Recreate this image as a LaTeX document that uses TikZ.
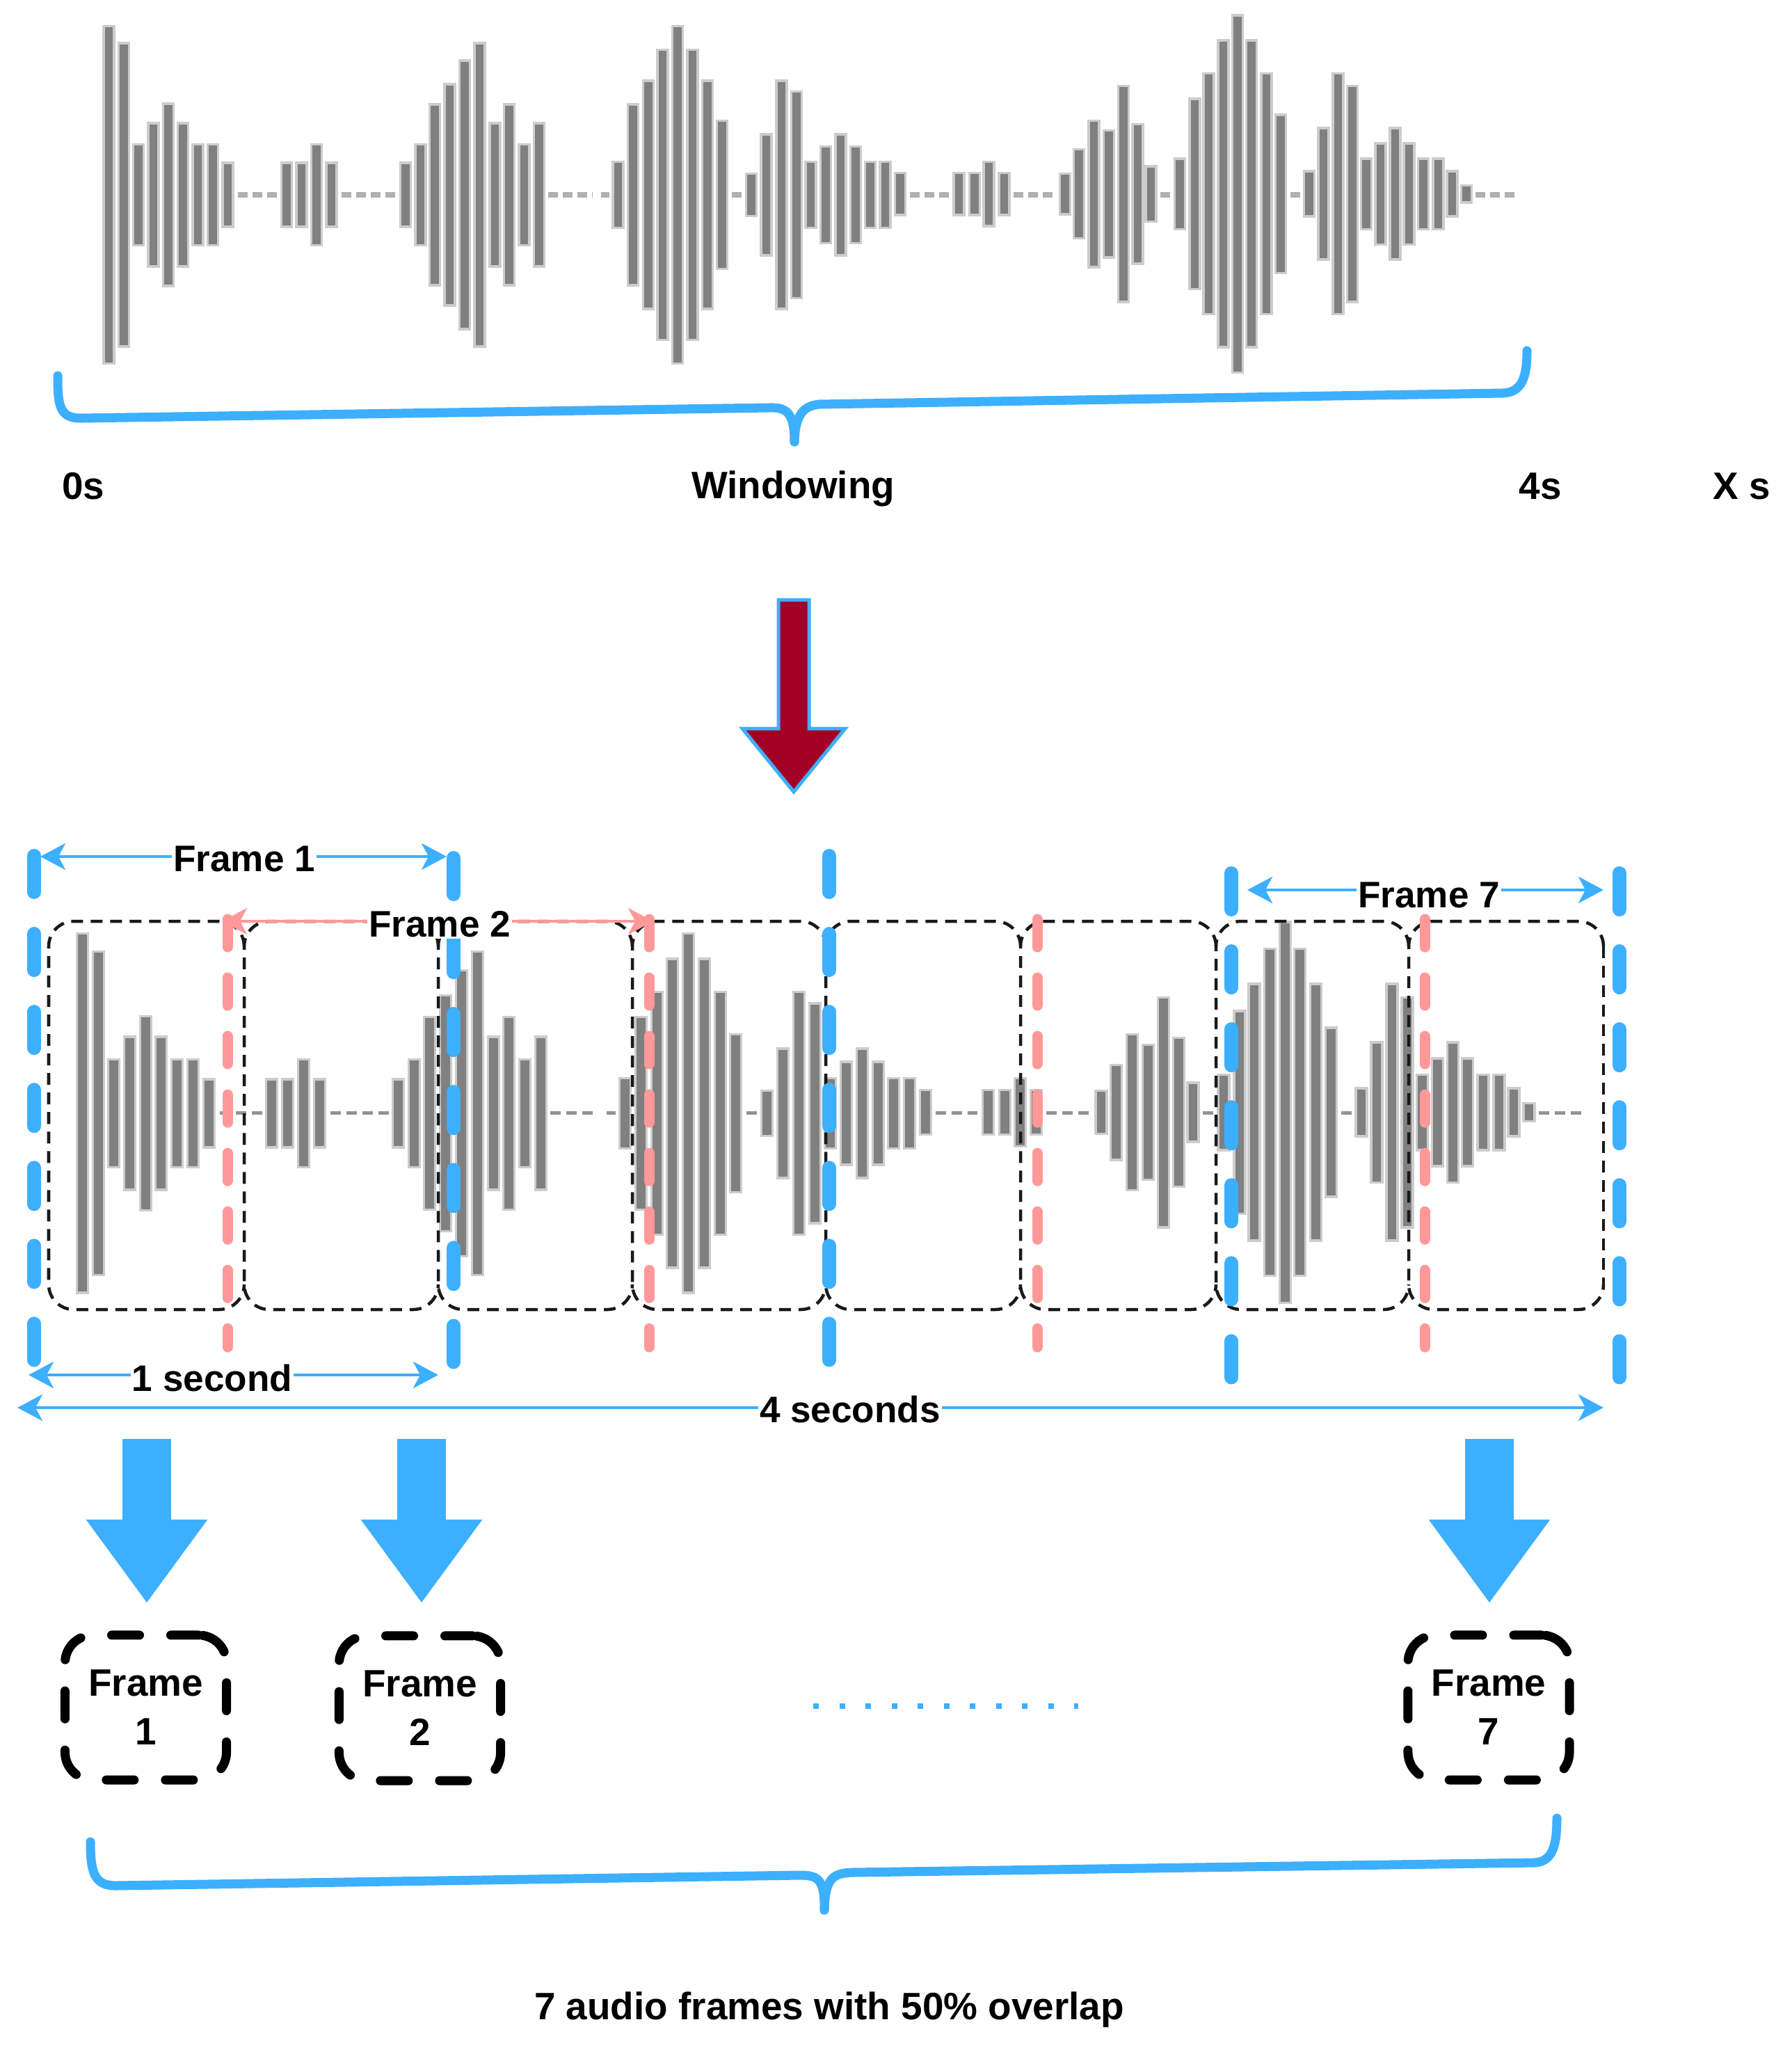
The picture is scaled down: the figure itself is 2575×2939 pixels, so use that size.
\documentclass[tikz,border=0pt]{standalone}
\usepackage{fontspec}
\setmainfont{Liberation Sans}
\usetikzlibrary{arrows.meta}
\definecolor{wblue}{HTML}{3DAFFF}
\definecolor{wpink}{HTML}{FF9999}
\definecolor{wgray}{HTML}{808080}
\definecolor{wdash}{HTML}{B0B0B0}
\definecolor{wred}{HTML}{A20025}
\tikzset{
  wavebar/.style={fill=wgray,draw=wgray!40,line width=.035cm},
  wavegap/.style={draw=wdash,line width=.08cm,dash pattern=on .14cm off .07cm},
  lbl/.style={font=\bfseries\fontsize{15.6}{19.9}\selectfont,inner sep=.02cm,text=black},
  cutlbl/.style={lbl,font=\bfseries\fontsize{15.1}{19.9}\selectfont,fill=white},
  bluebar/.style={draw=wblue,line width=.2cm,line cap=round,dash pattern=on .52cm off .60cm},
  pinkbar/.style={draw=wpink,line width=.15cm,line cap=round,dash pattern=on .40cm off .44cm},
  framebox/.style={draw=black!90,line width=.045cm,dash pattern=on .17cm off .11cm,rounded corners=.36cm},
  brace/.style={draw=wblue,line width=.13cm,line cap=round,line join=round},
  spanblue/.style={draw=wblue,line width=.045cm,{Stealth[length=.36cm,width=.38cm,inset=.1cm]}-{Stealth[length=.36cm,width=.38cm,inset=.1cm]}},
  spanpink/.style={draw=wpink,line width=.045cm,{Stealth[length=.36cm,width=.38cm,inset=.1cm]}-{Stealth[length=.36cm,width=.38cm,inset=.1cm]}},
  bigarrow/.style={draw=wblue,line width=.70cm,-{Triangle[length=1.20cm,width=1.66cm]}},
  framenode/.style={lbl,align=center,draw=black,line width=.13cm,line cap=round,dash pattern=on .40cm off .45cm,rounded corners=.4cm,minimum width=2.32cm,minimum height=2.08cm,inner sep=0pt},
}
\newcommand{\wavepic}{%
  \foreach \z/\h in {189/500,215/450,240/150,266/213,292/270,317/213,343/150,369/150,395/95,
    497/95,523/95,549/150,575/95,703/95,729/150,754/268,780/328,806/398,832/450,858/213,883/268,909/150,935/213,
    1072/98,1098/268,1124/338,1149/430,1175/500,1201/430,1227/338,1252/220,
    1303/63,1329/180,1355/338,1381/306,1406/98,1432/143,1458/180,1484/143,1509/98,1535/98}
    {\filldraw[wavebar] ({\z*.829-7.5},{280-\h*.4847}) rectangle ({\z*.829+7.5},{280+\h*.4847});}
  \foreach \z/\h in {23/62,125/62,152/62,177/95,203/62,309/60,333/132,359/217,385/188,410/320,435/207,458/82,
    508/105,534/282,558/357,583/455,608/530,632/455,658/357,683/235,
    732/67,757/195,782/357,807/320,831/105,856/150,881/195,905/150,930/105,956/105,980/67,1005/25}
    {\filldraw[wavebar] ({1275+\z*.829-7.5},{278.7-\h*.4847}) rectangle ({1275+\z*.829+7.5},{278.7+\h*.4847});}
  \foreach \a/\b in {342/400,491/572,788/852,864/876,1052/1066,1308/1364,1457/1517,1668/1682,1855/1869,2121/2179}
    {\draw[wavegap] (\a,279.5) -- (\b,279.5);}
}
\begin{document}
\begin{tikzpicture}[x=.01cm,y=-.01cm]
\useasboundingbox (0,0) rectangle (2575,2939);
\fill[white] (0,0) rectangle (2575,2939);
% top waveform
\wavepic
% top brace
\draw[brace] (83,540) .. controls (83,582) and (85,601) .. (116,601) -- (1105,586) .. controls (1130,585) and (1142,592) .. (1142,635);
\draw[brace] (1142,635) .. controls (1143,596) and (1155,583) .. (1178,581) -- (2160,565) .. controls (2188,564) and (2195,542) .. (2195,504);
\node[lbl] (t0) at (120,699) {0s};
\node[lbl] (twin) at (1140,702) {Windowing};
\node[lbl] (t4) at (2214,699) {4s};
\node[lbl] (tx) at (2504,699) {X s};
% red arrow
\draw[wblue,line width=.05cm,fill=wred,line join=miter] (1119,862) -- (1163,862) -- (1163,1047) -- (1215,1047) -- (1141,1138) -- (1067,1047) -- (1119,1047) -- cycle;
% second waveform
\begin{scope}[shift={(-48.4,1301.6)},xscale=1.0656,yscale=1.0656,wavegap/.append style={line width=.055cm,draw=wgray!85,dash pattern=on .15cm off .08cm}]
\wavepic
\end{scope}
% frame boxes: each open on its right side, so that a shared side is drawn once
\foreach \a/\b in {70/351,351/630,630/909,909/1187,1187/1467,1467/1748,1748/2025,2025/2305}
  {\draw[framebox] (\b,1360) -- (\b,1324) -- (\a,1324) -- (\a,1882) -- (\b,1882) -- (\b,1846);}
\draw[framebox] (2305,1360) -- (2305,1846);
% window bars
\coordinate (pa1) at (327,1321); \coordinate (pa2) at (327,1936);
\coordinate (pb1) at (933,1321); \coordinate (pb2) at (933,1936);
\coordinate (pc1) at (1491,1321); \coordinate (pc2) at (1491,1936);
\coordinate (pd1) at (2048,1321); \coordinate (pd2) at (2048,1936);
\foreach \n in {pa,pb,pc,pd} {\draw[pinkbar] (\n1) -- (\n2);}
\coordinate (ba1) at (49,1230); \coordinate (ba2) at (49,1958);
\coordinate (bb1) at (652,1233); \coordinate (bb2) at (652,1961);
\coordinate (bc1) at (1192,1230); \coordinate (bc2) at (1192,1958);
\coordinate (bd1) at (1770,1255); \coordinate (bd2) at (1770,1983);
\coordinate (be1) at (2328,1255); \coordinate (be2) at (2328,1983);
\foreach \n in {ba,bb,bc,bd,be} {\draw[bluebar] (\n1) -- (\n2);}
% span arrows
\coordinate (s1a) at (58,1231); \coordinate (s1b) at (642,1231);
\draw[spanblue] (s1a) -- (s1b);
\node[cutlbl] (s1t) at (351,1234) {Frame 1};
\coordinate (s2a) at (319,1324); \coordinate (s2b) at (939,1324);
\draw[spanpink] (s2a) -- (s2b);
\node[cutlbl] (s2t) at (632,1328) {Frame 2};
\coordinate (s7a) at (1793,1279); \coordinate (s7b) at (2305,1279);
\draw[spanblue] (s7a) -- (s7b);
\node[cutlbl] (s7t) at (2054,1286) {Frame 7};
\coordinate (sea) at (41,1976); \coordinate (seb) at (630,1976);
\draw[spanblue] (sea) -- (seb);
\node[cutlbl] (set) at (305,1980) {1 second};
\coordinate (sfa) at (25,2023); \coordinate (sfb) at (2305,2023);
\draw[spanblue] (sfa) -- (sfb);
\node[cutlbl] (sft) at (1222,2025) {4 seconds};
% frame nodes
\node[framenode] (f1) at (209.5,2454) {Frame\\1};
\node[framenode] (f2) at (603.5,2455) {Frame\\2};
\node[framenode] (f7) at (2140,2454) {Frame\\7};
% block arrows
\coordinate (a1) at (211,2068); \coordinate (a1e) at (211,2304);
\coordinate (a2) at (606,2068); \coordinate (a2e) at (606,2304);
\coordinate (a7) at (2141,2068); \coordinate (a7e) at (2141,2304);
\draw[bigarrow] (a1) -- (a1e);
\draw[bigarrow] (a2) -- (a2e);
\draw[bigarrow] (a7) -- (a7e);
% dots
\coordinate (da) at (1169,2452); \coordinate (db) at (1550,2452);
\draw[wblue,line width=.08cm,dash pattern=on .08cm off .295cm] (da) -- (db);
% bottom brace
\draw[brace] (130,2647) .. controls (130,2690) and (135,2710) .. (166,2710) -- (1150,2695) .. controls (1175,2695) and (1186,2700) .. (1185,2745);
\draw[brace] (1185,2745) .. controls (1186,2700) and (1197,2692) .. (1225,2691) -- (2205,2677) .. controls (2232,2676) and (2238,2652) .. (2238,2613);
\node[lbl] (tb) at (1192,2888) {7 audio frames with 50\% overlap};
\end{tikzpicture}
\end{document}
